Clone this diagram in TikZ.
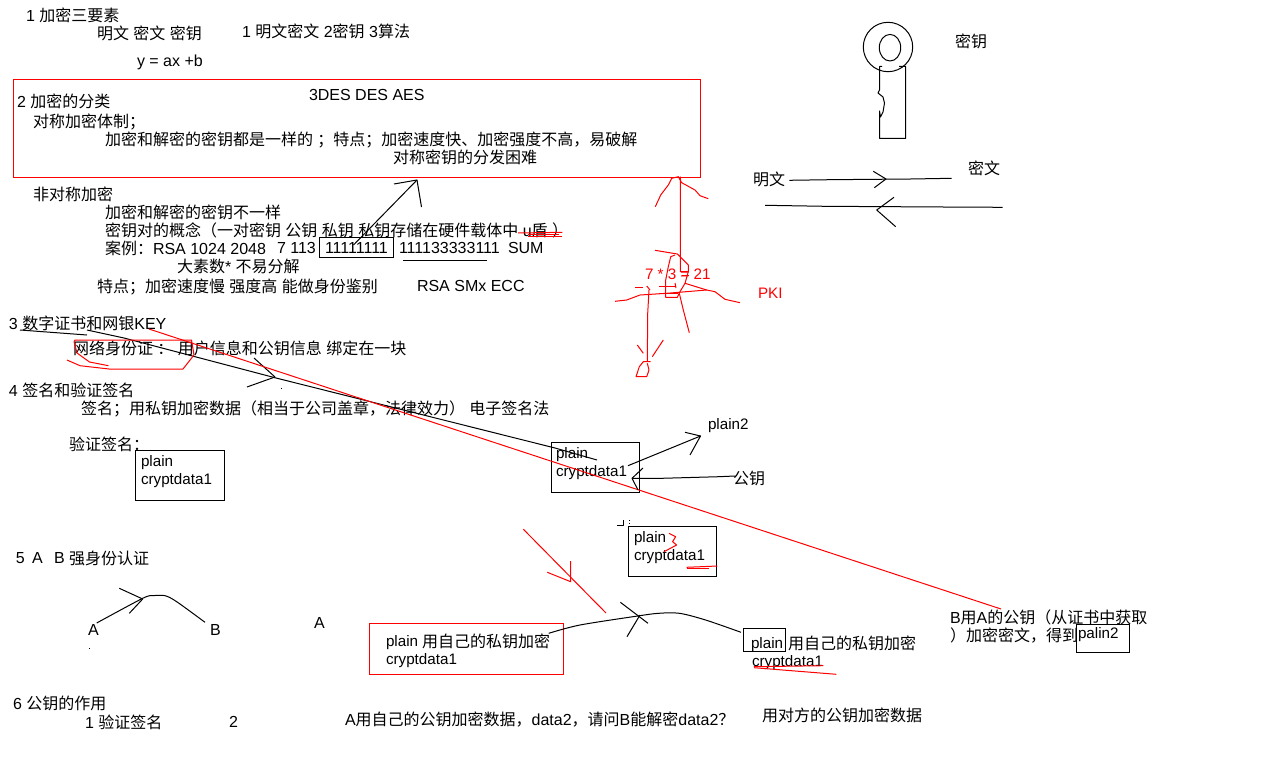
\documentclass[tikz,border=0pt]{standalone}
\usepackage{fontspec}
\setmainfont{Liberation Sans}
\newfontfamily\cjk{Noto Sans CJK SC}
% automatic font switch for CJK characters
\newXeTeXintercharclass\cjkclass
\makeatletter
\newcount\cjkcnt
\cjkcnt="4E00
\loop\ifnum\cjkcnt<"9FA6
  \XeTeXcharclass\cjkcnt=\cjkclass
  \advance\cjkcnt by 1
\repeat
\@for\cjkitem:={"3001,"3002,"FF08,"FF09,"FF0C,"FF1A,"FF1B,"FF1F}\do{\XeTeXcharclass\cjkitem=\cjkclass}
\makeatother
\XeTeXinterchartokenstate=1
\XeTeXinterchartoks 0 \cjkclass={\begingroup\cjk\fontsize{16}{18}\selectfont}
\XeTeXinterchartoks 4095 \cjkclass={\begingroup\cjk\fontsize{16}{18}\selectfont}
\XeTeXinterchartoks \cjkclass 0={\endgroup}
\XeTeXinterchartoks \cjkclass 4095={\endgroup}
\definecolor{pen}{RGB}{255,0,0}
\tikzset{
  tx/.style={anchor=base west,inner sep=0pt,outer sep=0pt,font=\fontsize{16}{18}\selectfont,text=black},
  cx/.style={tx,yshift=-1pt},
  lc/.style={tx,font=\fontsize{15.2}{18}\selectfont},
  rtx/.style={lc,text=pen},
  blk/.style={draw=black,line width=1pt,line join=round},
  red/.style={draw=pen,line width=1pt,line join=round},
  tbox/.style={draw=black,line width=1pt},
  rbox/.style={draw=pen,line width=1pt}
}
\begin{document}
\begin{tikzpicture}[x=1pt,y=-1pt]
\useasboundingbox (0,0) rectangle (1274,757);
% ---- boxes
\draw[rbox] (13,79.5) rectangle (700.5,177.5);
\draw[tbox] (319.5,237.5) rectangle (393.5,257.5);
\draw[tbox] (135,450.5) rectangle (224,500.5);
\draw[tbox] (551,442.5) rectangle (639,492.5);
\draw[tbox] (628.5,526.5) rectangle (716.5,576.5);
\draw[rbox] (369.5,623.5) rectangle (563,674.5);
\draw[tbox] (743.5,628.5) rectangle (785.5,651.5);
\draw[tbox] (1076.5,624.5) rectangle (1129.5,652.5);
% ---- texts
\node[cx] (t1) at (26,21) {1 加密三要素};
\node[cx] (t2) at (97,39) {明文 密文 密钥};
\node[cx] (t3) at (242,37) {1 明文密文 2密钥 3算法};
\node[tx] (t4) at (137,67) {y = ax +b};
\node[tx] (t5) at (309,101) {3DES DES AES};
\node[cx] (t6) at (17,107) {2 加密的分类};
\node[cx] (t7) at (33,127) {对称加密体制；};
\node[cx] (t8) at (105,145) {加密和解密的密钥都是一样的 ；特点；加密速度快、加密强度不高，易破解};
\node[cx] (t9) at (393,163) {对称密钥的分发困难};
\node[cx] (t10) at (33,199) {非对称加密};
\node[cx] (t11) at (105,217) {加密和解密的密钥不一样};
\node[cx] (t12) at (105,235) {密钥对的概念（一对密钥 公钥  私钥 私钥存储在硬件载体中 u盾 ）};
\node[cx] (t13) at (105,253) {案例：RSA 1024 2048};
\node[tx] (t13b) at (277,253) {7 113};
\node[tx] (t13c) at (325,253) {11111111};
\node[tx] (t13d) at (399,253) {111133333111};
\node[tx] (t13e) at (508,253) {SUM};
\node[cx] (t14) at (177,271) {大素数* 不易分解};
\node[cx] (t15) at (97,291) {特点；加密速度慢 强度高 能做身份鉴别};
\node[tx] (t16) at (417,291) {RSA SMx ECC};
\node[cx] (t17) at (9,328) {3 数字证书和网银KEY};
\node[cx] (t18) at (73,353) {网络身份证 ： 用户信息和公钥信息 绑定在一块};
\node[cx] (t19) at (9,395) {4 签名和验证签名};
\node[cx] (t20) at (81,413) {签名；用私钥加密数据（相当于公司盖章，法律效力） 电子签名法};
\node[cx] (t21) at (69,449) {验证签名：};
\node[lc] (p1) at (141,466) {plain};
\node[lc] (c1) at (141,484) {cryptdata1};
\node[lc] (p2) at (556,458) {plain};
\node[lc] (c2) at (556,476) {cryptdata1};
\node[lc] (p3) at (708,429) {plain2};
\node[cx] (gy) at (733,483) {公钥};
\node[lc] (p4) at (634,542) {plain};
\node[lc] (c4) at (634,560) {cryptdata1};
\node[tx] (t22a) at (16,563) {5};
\node[tx] (t22b) at (32,563) {A};
\node[tx] (t22c) at (54,563) {B};
\node[cx] (t22) at (69,563) {强身份认证};
\node[tx] (na) at (88,635) {A};
\node[tx] (nb) at (210,635) {B};
\node[tx] (na2) at (314,628) {A};
\node[lc] (p5) at (386,646) {plain};
\node[cx] (p5b) at (422,646) {用自己的私钥加密};
\node[lc] (c5) at (386,664) {cryptdata1};
\node[lc] (p6) at (751,648) {plain};
\node[cx] (p6b) at (788,648) {用自己的私钥加密};
\node[lc] (c6) at (752,666) {cryptdata1};
\node[cx] (t23) at (950,622) {B用A的公钥（从证书中获取};
\node[cx] (t24) at (950,640) {）加密密文，得到};
\node[lc] (t25) at (1078,638) {palin2};
\node[cx] (t26) at (13,708) {6 公钥的作用};
\node[cx] (t27) at (85,727) {1 验证签名};
\node[tx] (t28) at (229,727) {2};
\node[cx] (t29) at (345,724) {A用自己的公钥加密数据，data2，请问B能解密data2？};
\node[cx] (t30) at (762,720) {用对方的公钥加密数据};
\node[cx] (k1) at (955,47) {密钥};
\node[cx] (k2) at (968,174) {密文};
\node[cx] (k3) at (753,184) {明文};
\node[rtx] (r1) at (645,279) {7 * 3 = 21};
\node[rtx] (r2) at (758,298) {PKI};
% ---- key
\draw[blk] (888,47) circle (24.7);
\draw[blk] (890,47.7) ellipse (10.7 and 13.3);
\draw[blk] (882,66.5) -- (879.5,66.5) -- (879.5,90) -- (878,93) -- (883,97) -- (884.5,103) -- (883,112) -- (880.5,117) -- (879.5,111) -- (879.5,138.5) -- (905.5,138.5) -- (905.5,66.5) -- (899,66.5);
% ---- plain / cipher arrows
\draw[blk] (789.3,180.3) -- (830,179.7) -- (910.7,179) -- (951.7,178.3);
\draw[blk] (873.3,171.3) -- (886,179) -- (874.3,187.7);
\draw[blk] (765,205.3) -- (825,206.3) -- (943.3,207) -- (1002.7,207.3);
\draw[blk] (894,197.3) -- (876.7,210) -- (895.7,226.7);
% ---- arrow up to the box
\draw[blk] (353.5,245) -- (417,180);
\draw[blk] (394,184) -- (417,180) -- (421.5,207);
\draw[blk] (403,260.5) -- (486.7,260.5);
% ---- red underline near u-dun
\draw[red] (518,233) -- (562.4,232.3);
\draw[red] (528,236) -- (562.4,236);
\draw[red] (528,234.5) -- (559,234.5);
% ---- red figure
\draw[red] (680.3,176.7) -- (680.3,271.7) -- (688.3,271.7) -- (688.3,265) -- (677.3,254) -- (655,250.3);
\draw[red] (655.3,206.7) -- (660.7,195) -- (668.3,185) -- (671.7,178.3) -- (678.3,176.7) -- (681.7,182.7) -- (695,190) -- (700,195.7) -- (708.3,198.7);
\draw[red] (675,255) -- (670.7,256.7) -- (668.3,266.7) -- (665.7,280) -- (665.7,297.3) -- (677.3,297.3) -- (680,291.7) -- (685,283.3) -- (688.3,271.7);
\draw[red] (615,301.3) -- (626.7,300) -- (640,295) -- (666.7,293.3) -- (706.7,290) -- (715,291.7) -- (725,299.3) -- (740,302.7);
\draw[red] (685,283.3) -- (706.7,290);
\draw[red] (635,287) -- (643.3,287);
\draw[red] (646.7,286) -- (650,290);
\draw[red] (649,290) -- (647.7,313.3) -- (647.3,361.7);
\draw[red] (659.3,286.7) -- (675,286.7);
\draw[red] (659.3,293) -- (678,293);
\draw[red] (675,283) -- (676,288);
\draw[red] (679.3,293.3) -- (683.3,310) -- (689.3,332.7);
\draw[red] (681.7,275) -- (689.3,275);
\draw[red] (637.3,345) -- (643.3,353.3);
\draw[red] (663.3,340) -- (652.3,356.7);
\draw[red] (650.7,361.7) -- (643.3,361.7) -- (639.3,366.7) -- (636,376.7) -- (646.7,376.7) -- (649,370) -- (647.3,363.3);
% ---- black long lines
\draw[blk] (20,330) -- (87,335);
\draw[blk] (87,330) -- (124,338) -- (276,378) -- (555,448) -- (597,460);
\draw[blk] (254,358) -- (275,377) -- (247,387);
\fill (281,388) rectangle +(1,1);
% ---- red long line and blob
\draw[red] (149,329) -- (1001,609);
\draw[red] (74,341.7) -- (75,340) -- (191.5,340) -- (194,355) -- (183,369) -- (109,369) -- (80,365.7) -- (67,360);
\draw[red] (74,341.7) -- (77,353) -- (89.5,362) -- (108.5,365.7);
% ---- plain2 and public key arrows
\draw[blk] (628,465.7) -- (700.5,436);
\draw[blk] (685,432.3) -- (700.5,436) -- (690,455);
\draw[blk] (735,476) -- (719,476.7) -- (661.7,478.3) -- (632,478.3);
\draw[blk] (643,468) -- (632,478.3) -- (638,490);
% ---- little marks by the third box
\draw[blk] (617,525) -- (623,525) -- (623,520);
\fill (629,520) rectangle +(1,1);
\fill (629,523) rectangle +(1,1);
\draw[red] (669,533.3) -- (675.6,536.7) -- (672.6,541.7) -- (676.6,545) -- (664,551.7);
\draw[red] (686.6,567.3) -- (717.4,566);
\draw[red] (686.6,568.7) -- (709,568.7);
% ---- red arrow
\draw[red] (523.4,529.3) -- (606,613);
\draw[red] (570.7,561) -- (570.7,581.7) -- (547.3,572.3);
% ---- A to B sketch
\draw[blk] plot[smooth,tension=.5] coordinates {(96.7,623) (142.7,598.3) (153,595.7) (165,595.7) (176.7,601.7) (205,622.3)};
\draw[blk] (119.3,588.3) -- (142.7,599) -- (129.3,613.3);
\fill (89,648) rectangle +(1,1);
% ---- curve between the plain boxes
\draw[blk] plot[smooth,tension=.5] coordinates {(548.7,633.3) (580,625) (637.7,616) (658.6,613.3) (679.5,613.3) (705.6,620) (741,632.3)};
\draw[blk] (620.4,602.3) -- (648,623.3);
\draw[blk] (640,615) -- (627,636.7);
\draw[red] (753.8,666.7) -- (823.3,665.7);
\draw[red] (754,667.7) -- (836.4,674.3);
\end{tikzpicture}
\end{document}
